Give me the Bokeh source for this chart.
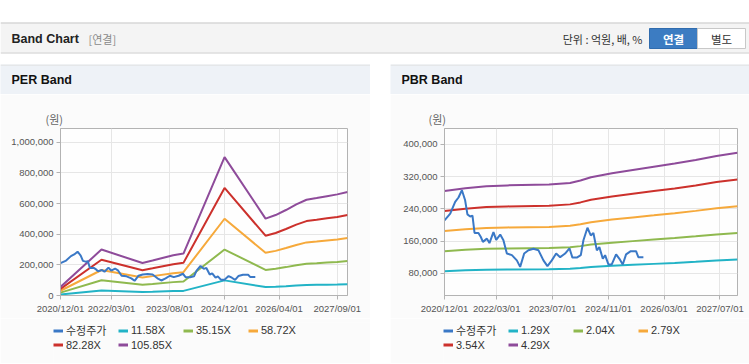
from datetime import datetime
from bokeh.plotting import figure
from bokeh.layouts import column, row
from bokeh.models import (Range1d, FixedTicker, DatetimeTickFormatter, NumeralTickFormatter,
                          Legend, LegendItem, Title, Spacer)
from bokeh.core.properties import value
from bokeh.embed import file_html
from bokeh.resources import INLINE

# ---------------- data ----------------
price_dates = ["2020-12-01", "2021-01-20", "2021-03-04", "2021-04-02", "2021-05-02",
               "2021-05-30", "2021-06-19", "2021-07-13", "2021-08-02", "2021-08-20",
               "2021-09-23", "2021-10-14", "2021-11-01", "2021-12-06", "2021-12-28",
               "2022-02-01", "2022-02-25", "2022-04-01", "2022-04-29", "2022-05-29",
               "2022-07-12", "2022-08-24", "2022-09-22", "2022-10-27", "2022-12-03",
               "2023-01-16", "2023-03-01", "2023-04-13", "2023-05-18", "2023-06-25",
               "2023-08-02", "2023-09-06", "2023-10-19", "2023-11-26", "2023-12-22",
               "2024-01-29", "2024-03-04", "2024-03-27", "2024-05-01", "2024-05-30",
               "2024-06-22", "2024-07-22", "2024-08-13", "2024-09-12", "2024-10-02",
               "2024-10-31", "2024-11-29", "2025-01-06", "2025-02-04", "2025-03-05",
               "2025-04-03", "2025-05-14", "2025-06-29", "2025-07-19", "2025-09-01"]
price_values = [211000, 228000, 257000, 268000, 286000, 261000, 226000, 221000, 223000, 180000,
                180000, 170000, 158000, 166000, 155000, 182000, 163000, 176000, 162000, 129000,
                125000, 112000, 96000, 129000, 137000, 141000, 137000, 112000, 98000, 112000,
                129000, 120000, 129000, 142000, 119000, 119000, 125000, 162000, 193000, 174000,
                180000, 137000, 145000, 116000, 125000, 102000, 102000, 127000, 116000, 102000,
                127000, 135000, 135000, 120000, 120000]

per_dates = ["2020-12-01", "2021-12-01", "2022-12-01", "2023-03-01", "2023-09-01", "2023-12-01",
             "2024-12-01", "2025-12-01", "2026-03-01", "2026-06-01", "2026-09-01", "2026-12-01",
             "2027-03-01", "2027-06-01", "2027-09-01", "2027-12-01"]
per_11_58 = [6100, 32800, 23200, 24900, 28800, 30000, 98800, 54900, 57400, 61000, 65100, 68400,
             69600, 70900, 72200, 74000]
per_35_15 = [18600, 99600, 70400, 75700, 87300, 91000, 299900, 166700, 174300, 185300, 197600,
             207500, 211200, 215200, 219200, 224500]
per_58_72 = [31100, 166400, 117600, 126500, 145900, 152000, 500900, 278500, 291200, 309600,
             330100, 346700, 352800, 359500, 366100, 375000]
per_82_28 = [43500, 233200, 164800, 177200, 204400, 213000, 701900, 390200, 408100, 433800,
             462500, 485800, 494400, 503700, 513000, 525500]
per_105_85 = [56000, 300000, 212000, 228000, 263000, 274000, 903000, 502000, 525000, 558000,
              595000, 625000, 636000, 648000, 660000, 676000]

pbr_dates = ["2020-12-01", "2021-06-01", "2021-12-01", "2022-06-01", "2023-06-01", "2023-12-01",
             "2024-03-01", "2024-06-01", "2024-12-01", "2025-06-01", "2025-12-01", "2026-06-01",
             "2026-12-01", "2027-06-01", "2027-12-01"]
pbr_1_29 = [85400, 87500, 89000, 89600, 90200, 91400, 93200, 95600, 98600, 101000, 103400,
            105800, 108600, 111600, 114000]
pbr_2_04 = [135000, 138400, 140800, 141700, 142700, 144600, 147400, 151200, 156000, 159800,
            163600, 167400, 171700, 176400, 180200]
pbr_2_79 = [184700, 189300, 192500, 193800, 195100, 197700, 201600, 206800, 213300, 218500,
            223700, 228900, 234800, 241300, 246500]
pbr_3_54 = [234300, 240100, 244300, 245900, 247600, 250900, 255800, 262400, 270700, 277300,
            283900, 290500, 297900, 306100, 312700]
pbr_4_29 = [284000, 291000, 296000, 298000, 300000, 304000, 310000, 318000, 328000, 336000,
            344000, 352000, 361000, 371000, 379000]

per_labels = ["수정주가", "11.58X", "35.15X", "58.72X", "82.28X", "105.85X"]
pbr_labels = ["수정주가", "1.29X", "2.04X", "2.79X", "3.54X", "4.29X"]
per_x_ticks = ["2020-12-01", "2022-03-01", "2023-08-01", "2024-12-01", "2026-04-01", "2027-09-01"]
pbr_x_ticks = ["2020-12-01", "2022-03-01", "2023-07-01", "2024-11-01", "2026-03-01", "2027-07-01"]
per_y_ticks = [0, 200000, 400000, 600000, 800000, 1000000]
pbr_y_ticks = [80000, 160000, 240000, 320000, 400000]
x_start, x_end = "2020-12-01", "2027-12-01"

# ---------------- style ----------------
COLORS = ["#3a78c6", "#22b3c6", "#8fb94f", "#f6a93b", "#cc312c", "#8e4b9a"]
TICK_FONT = "Liberation Sans, sans-serif"
TEXT_FONT = "Liberation Sans, Noto Sans CJK KR, sans-serif"
KR_FONT = "Noto Sans CJK KR, Liberation Sans, sans-serif"
PANEL_BG = "#fbfbfb"
TITLE_BG = "#eef2f7"


def d(s):
    return datetime.strptime(s, "%Y-%m-%d")


def ms(s):
    return (d(s) - datetime(1970, 1, 1)).total_seconds() * 1000.0


def no_align(p):
    if "frame_align" in p.properties():
        p.frame_align = False
    return p


def blank(width, height, x0, x1, y0, y1, bg, **kw):
    p = figure(width=width, height=height, x_range=Range1d(x0, x1), y_range=Range1d(y0, y1),
               toolbar_location=None, output_backend="svg", **kw)
    p.axis.visible = False
    p.grid.visible = False
    p.outline_line_color = None
    p.border_fill_color = bg
    p.background_fill_color = bg
    return no_align(p)


def txt(p, x, y, s, size, color, bold=False, align="left", font=TEXT_FONT):
    p.text(x=[x], y=[y], text=[s], text_font=value(font), text_font_size=value(size),
           text_color=color, text_align=align, text_baseline="middle",
           text_font_style="bold" if bold else "normal")


# ---------------- header ----------------
hdr = blank(749, 64, 0, 749, 64, 0, "#ffffff", min_border=0)
hdr.quad(left=[0], right=[749], top=[22], bottom=[53], fill_color="#f4f4f4", line_color=None)
hdr.segment(x0=[0], x1=[749], y0=[22.5], y1=[22.5], line_color="#c8c8c8", line_width=1)
hdr.segment(x0=[0], x1=[749], y0=[52.5], y1=[52.5], line_color="#d2d2d2", line_width=1)
txt(hdr, 11, 38, "Band Chart", "12.5px", "#222222", bold=True)
txt(hdr, 88, 38, "[연결]", "11px", "#8a8a8a", font=KR_FONT)
txt(hdr, 642, 38, "단위 : 억원, 배, %", "11px", "#333333", align="right", font=KR_FONT)
hdr.quad(left=[649], right=[697], top=[28], bottom=[48], fill_color="#3c7cc2", line_color="#306cae")
hdr.quad(left=[697], right=[745], top=[28], bottom=[48], fill_color="#ffffff", line_color="#c8c8c8")
txt(hdr, 673, 38, "연결", "11.5px", "#ffffff", bold=True, align="center", font=KR_FONT)
txt(hdr, 721, 38, "별도", "11.5px", "#333333", align="center", font=KR_FONT)


# ---------------- charts ----------------
def title_bar(width, text):
    t = blank(width, 30, 0, width, 30, 0, TITLE_BG, min_border=0)
    t.segment(x0=[0], x1=[width], y0=[0.5], y1=[0.5], line_color="#dcdcdc", line_width=1)
    txt(t, 11, 15.5, text, "12.5px", "#111111", bold=True)
    return t


def chart(width, left_b, right_b, y0, y1, yticks, xticks, bdates, bands, unit_dx):
    p = figure(width=width, height=224, x_axis_type="datetime",
               x_range=Range1d(d(x_start), d(x_end)), y_range=Range1d(y0, y1),
               toolbar_location=None, output_backend="svg",
               min_border_left=left_b, min_border_right=right_b,
               min_border_top=34, min_border_bottom=23)
    no_align(p)
    p.border_fill_color = PANEL_BG
    p.background_fill_color = "#fefefe"
    p.outline_line_color = "#b3b3b3"

    bx = [d(s) for s in bdates]
    for vals, col in zip(bands, COLORS[1:]):
        p.line(bx, vals, line_color=col, line_width=2)
    p.line([d(s) for s in price_dates], price_values, line_color=COLORS[0], line_width=2)

    xt = FixedTicker(ticks=[ms(s) for s in xticks])
    yt = FixedTicker(ticks=yticks)
    fmt = "%Y/%m/%d"
    p.xaxis.ticker = xt
    p.xgrid.ticker = xt
    p.xaxis.formatter = DatetimeTickFormatter(milliseconds=fmt, seconds=fmt, minsec=fmt, minutes=fmt,
                                              hourmin=fmt, hours=fmt, days=fmt, months=fmt, years=fmt)
    p.yaxis.ticker = yt
    p.ygrid.ticker = yt
    p.yaxis.formatter = NumeralTickFormatter(format="0,0")
    for ax in (p.xaxis, p.yaxis):
        ax.axis_line_color = "#b3b3b3"
        ax.major_tick_line_color = "#b3b3b3"
        ax.major_tick_out = 4
        ax.major_tick_in = 0
        ax.minor_tick_line_color = None
        ax.major_label_text_color = "#555555"
        ax.major_label_text_font = TICK_FONT
        ax.major_label_standoff = 3
        ax.major_label_text_font_size = "9.5px"
    p.grid.grid_line_color = "#e6e6e6"

    p.add_layout(Title(text="(원)", align="left", offset=unit_dx, standoff=4,
                       text_font=KR_FONT, text_font_size="11px", text_color="#666666",
                       text_font_style="normal"), "above")
    return p


def legend_fig(width, labels, bdates, bands):
    # legend strip below the chart; its renderers carry the series but lie outside this strip's view
    lf = blank(width, 45, 0, 1, 0, 1, PANEL_BG, min_border_left=53, min_border_top=4,
               min_border_right=0, min_border_bottom=0)
    series = [([d(s) for s in price_dates], price_values)] + [([d(s) for s in bdates], b) for b in bands]
    rends = [lf.line(x=xs, y=ys, line_color=c, line_width=3) for (xs, ys), c in zip(series, COLORS)]
    leg = Legend(items=[LegendItem(label=lab, renderers=[r]) for lab, r in zip(labels, rends)],
                 location="top_left", orientation="horizontal", ncols=4,
                 glyph_width=10, glyph_height=13, label_height=13, label_width=52,
                 label_standoff=3, spacing=0, padding=0, margin=0,
                 border_line_color=None, background_fill_alpha=0,
                 label_text_font=TEXT_FONT, label_text_font_size="11px",
                 label_text_color="#333333")
    lf.add_layout(leg)
    return lf


def bottom_line(width):
    return blank(width, 1, 0, width, 1, 0, "#d6d6d6", min_border=0)


per_bands = [per_11_58, per_35_15, per_58_72, per_82_28, per_105_85]
pbr_bands = [pbr_1_29, pbr_2_04, pbr_2_79, pbr_3_54, pbr_4_29]
left = chart(370, 60, 23, 0, 1090000, per_y_ticks, per_x_ticks, per_dates, per_bands, -15)
right = chart(359, 54, 12, 25000, 439000, pbr_y_ticks, pbr_x_ticks, pbr_dates, pbr_bands, -16)

page = column(hdr,
              row(column(title_bar(370, "PER Band"), left,
                         legend_fig(370, per_labels, per_dates, per_bands), bottom_line(370)),
                  Spacer(width=20, height=300),
                  column(title_bar(359, "PBR Band"), right,
                         legend_fig(359, pbr_labels, pbr_dates, pbr_bands), bottom_line(359))))

open("out.html", "w").write(file_html(page, INLINE))
